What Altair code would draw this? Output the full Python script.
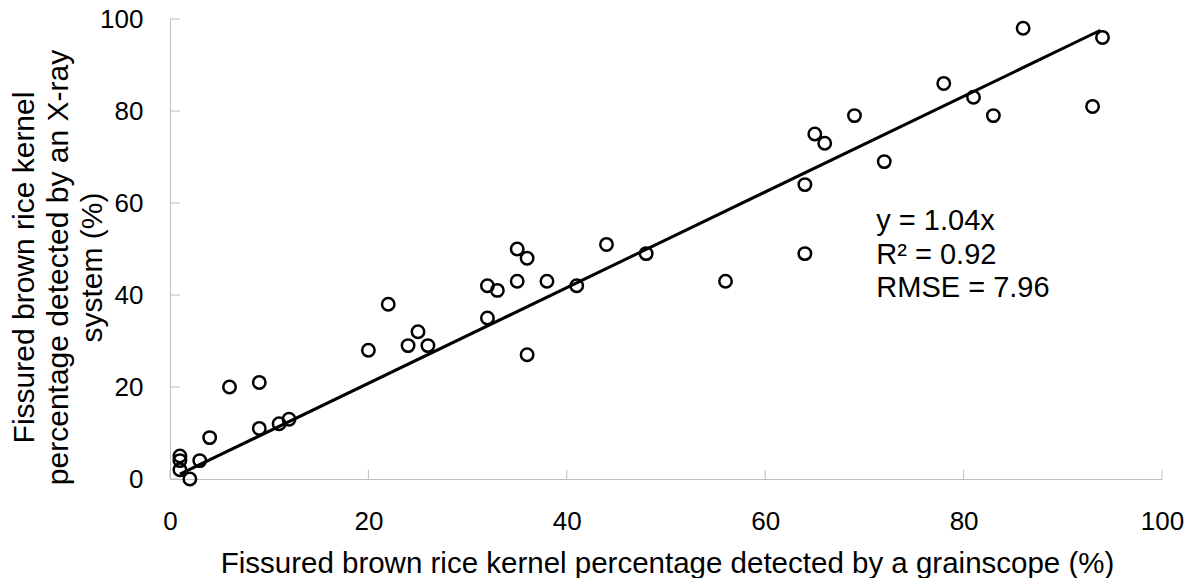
import altair as alt
import pandas as pd

# Data
grainscope = [1, 1, 1, 2, 3, 4, 6, 9, 9, 11, 12, 20, 22, 24, 25, 26, 32, 33, 32, 35, 36, 35, 38, 36, 41,
              44, 48, 56, 64, 64, 65, 66, 69, 72, 78, 81, 83, 86, 93, 94]
xray = [5, 4, 2, 0, 4, 9, 20, 21, 11, 12, 13, 28, 38, 29, 32, 29, 42, 41, 35, 50, 48, 43, 43, 27, 42,
        51, 49, 43, 49, 64, 75, 73, 79, 69, 86, 83, 79, 98, 81, 96]

fit_x = [1, 93.8]
fit_slope = 1.04

x_ticks = [0, 20, 40, 60, 80, 100]
y_ticks = [0, 20, 40, 60, 80, 100]

ann_text = ["y = 1.04x", "R² = 0.92", "RMSE = 7.96"]
ann_x = [71.2, 71.2, 71.2]
ann_y = [56.1, 48.7, 41.5]

FONT = "Liberation Sans"
W, H = 992, 460

pts = pd.DataFrame({"x": grainscope, "y": xray})
fit = pd.DataFrame({"x": fit_x, "y": [fit_slope * v for v in fit_x]})
ann = pd.DataFrame({"x": ann_x, "y": ann_y, "t": ann_text})
xt = pd.DataFrame({"v": x_ticks})
yt = pd.DataFrame({"v": y_ticks})

xscale = alt.Scale(domain=[0, 100], nice=False)
yscale = alt.Scale(domain=[0, 100], nice=False)

xaxis = alt.Axis(values=x_ticks, grid=False, ticks=False, domainColor="#bfbfbf", domainWidth=1,
                 labelFont=FONT, labelFontSize=26, labelColor="#000000", labelPadding=29,
                 labelFlush=False,
                 title="Fissured brown rice kernel percentage detected by a grainscope (%)",
                 titleFont=FONT, titleFontSize=29.5, titleFontWeight="normal", titleColor="#000000",
                 titleBaseline="alphabetic", titleY=93, titleX=W / 2 + 1, titleAlign="center")
yaxis = alt.Axis(values=y_ticks, grid=False, ticks=False, domainColor="#bfbfbf", domainWidth=1,
                 labelFont=FONT, labelFontSize=26, labelColor="#000000", labelPadding=27,
                 labelFlush=False,
                 title=["Fissured brown rice kernel", "percentage detected by an X-ray", "system (%)"],
                 titleFont=FONT, titleFontSize=30, titleFontWeight="normal", titleColor="#000000",
                 titleLineHeight=34, titleBaseline="alphabetic", titleAngle=270,
                 titleX=-137, titleY=248, titleAlign="center")

points = alt.Chart(pts).mark_point(shape="circle", filled=False, color="#000000", size=155,
                                   strokeWidth=2.5, opacity=1).encode(
    x=alt.X("x:Q", scale=xscale, axis=xaxis),
    y=alt.Y("y:Q", scale=yscale, axis=yaxis),
)

line = alt.Chart(fit).mark_line(color="#000000", strokeWidth=3).encode(
    x=alt.X("x:Q", scale=xscale),
    y=alt.Y("y:Q", scale=yscale),
)

xticks = alt.Chart(xt).mark_rule(color="#bfbfbf", strokeWidth=1).encode(
    x=alt.X("v:Q", scale=xscale), y=alt.value(H), y2=alt.value(H - 9)
)
yticks = alt.Chart(yt).mark_rule(color="#bfbfbf", strokeWidth=1).encode(
    y=alt.Y("v:Q", scale=yscale), x=alt.value(0), x2=alt.value(10)
)

text = alt.Chart(ann).mark_text(align="left", baseline="middle", font=FONT, fontSize=29,
                                color="#000000").encode(
    x=alt.X("x:Q", scale=xscale),
    y=alt.Y("y:Q", scale=yscale),
    text="t:N",
)

chart = alt.layer(xticks, yticks, line, points, text).properties(
    width=W, height=H,
    padding={"left": 170, "top": 19, "right": 29, "bottom": 99},
    autosize="none",
    background="#ffffff",
).configure_view(stroke=None)

chart.save("out.html", embed_options={"renderer": "svg", "actions": False})
